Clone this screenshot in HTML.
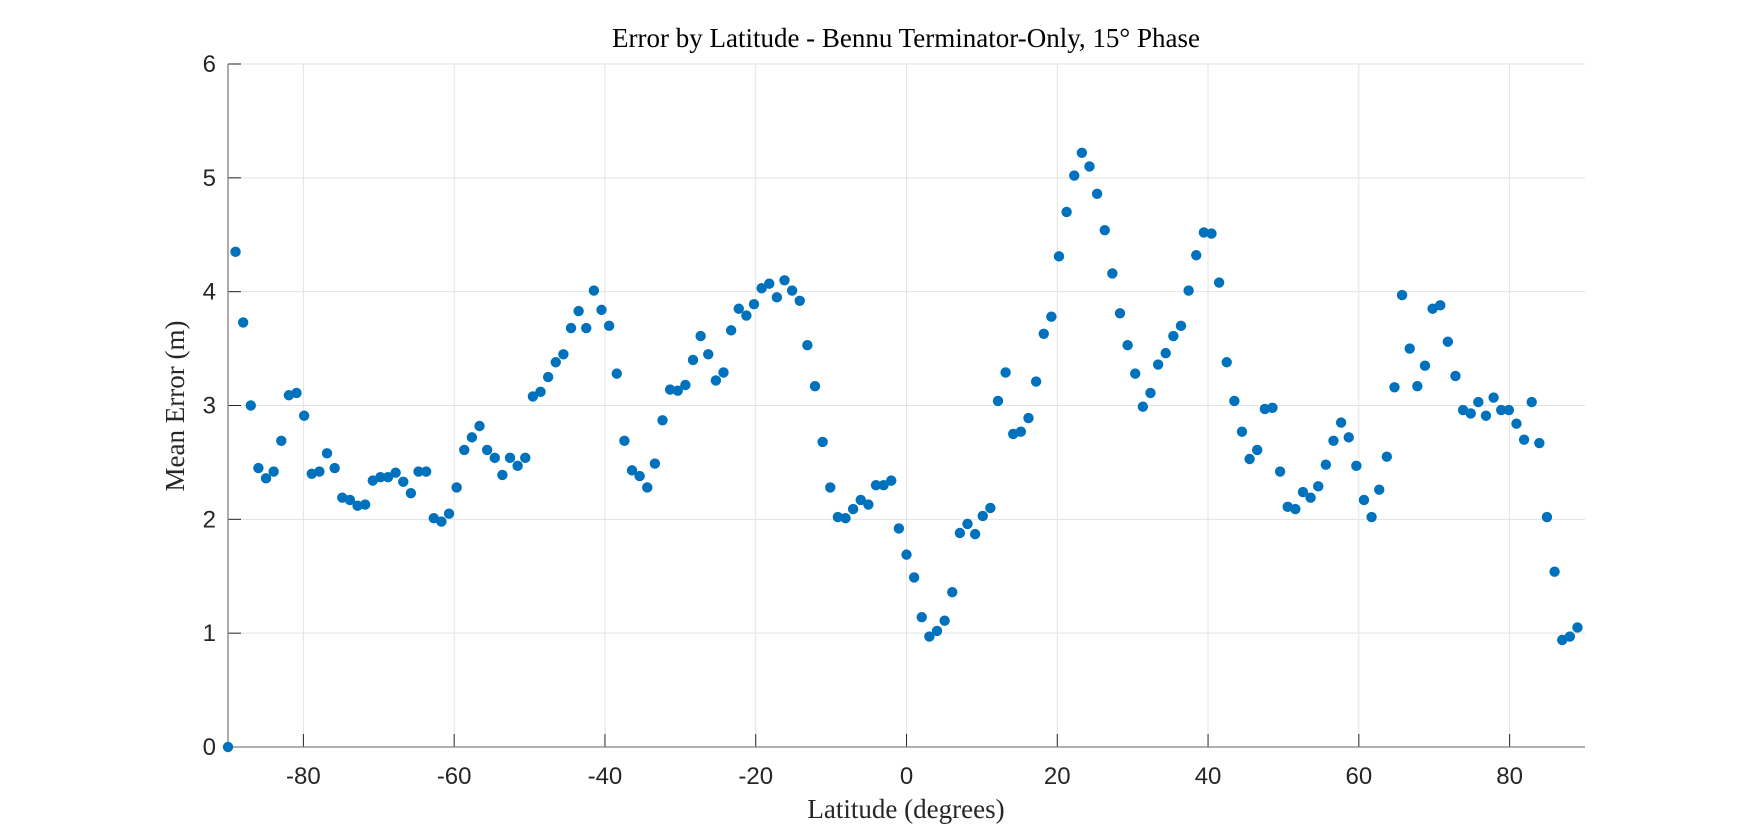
<!DOCTYPE html>
<html><head><meta charset="utf-8"><style>
html,body{margin:0;padding:0;background:#fff;}
svg{display:block;}
</style></head><body>
<svg id="chart" width="1754" height="840" xmlns="http://www.w3.org/2000/svg">
<rect width="1754" height="840" fill="#fff"/>
<g id="grid"></g>
<g id="axes"></g>
<g id="points"></g>
<text x="906" y="47" text-anchor="middle" font-family="Liberation Serif, serif" font-size="27" fill="#000">Error by Latitude - Bennu Terminator-Only, 15° Phase</text>
<text x="906" y="818" text-anchor="middle" font-family="Liberation Serif, serif" font-size="27" fill="#262626">Latitude (degrees)</text>
<text transform="translate(184,406) rotate(-90)" text-anchor="middle" font-family="Liberation Serif, serif" font-size="27" fill="#262626">Mean Error (m)</text>
</svg>
<script>
const xTicks = [-80, -60, -40, -20, 0, 20, 40, 60, 80];
const yTicks = [0, 1, 2, 3, 4, 5, 6];
const firstLat = -90;
const firstVal = 0;
const latStart = -89;
const latEnd = 89;
const errors = [
4.35,3.73,3.00,2.45,2.36,2.42,2.69,3.09,3.11,2.91,2.40,2.42,2.58,2.45,2.19,2.17,2.12,2.13,2.34,2.37,2.37,2.41,2.33,2.23,2.42,2.42,2.01,1.98,2.05,2.28,
2.61,2.72,2.82,2.61,2.54,2.39,2.54,2.47,2.54,3.08,3.12,3.25,3.38,3.45,3.68,3.83,3.68,4.01,3.84,3.70,3.28,2.69,2.43,2.38,2.28,2.49,2.87,3.14,3.13,
3.18,3.40,3.61,3.45,3.22,3.29,3.66,3.85,3.79,3.89,4.03,4.07,3.95,4.10,4.01,3.92,3.53,3.17,2.68,2.28,2.02,2.01,2.09,2.17,2.13,2.30,2.30,2.34,1.92,1.69,1.49,
1.14,0.97,1.02,1.11,1.36,1.88,1.96,1.87,2.03,2.10,3.04,3.29,2.75,2.77,2.89,3.21,3.63,3.78,4.31,4.70,5.02,5.22,5.10,4.86,4.54,4.16,3.81,3.53,3.28,2.99,
3.11,3.36,3.46,3.61,3.70,4.01,4.32,4.52,4.51,4.08,3.38,3.04,2.77,2.53,2.61,2.97,2.98,2.42,2.11,2.09,2.24,2.19,2.29,2.48,2.69,2.85,2.72,2.47,2.17,2.02,
2.26,2.55,3.16,3.97,3.50,3.17,3.35,3.85,3.88,3.56,3.26,2.96,2.93,3.03,2.91,3.07,2.96,2.96,2.84,2.70,3.03,2.67,2.02,1.54,0.94,0.97,1.05
];
const L=228, R=1585, T=64, B=747;
const xMin=-90, xMax=90, yMin=0, yMax=6;
function sx(v){return L+(v-xMin)/(xMax-xMin)*(R-L);}
function sy(v){return B-(v-yMin)/(yMax-yMin)*(B-T);}
const NS="http://www.w3.org/2000/svg";
function mk(tag,attrs,parent){const e=document.createElementNS(NS,tag);for(const k in attrs)e.setAttribute(k,attrs[k]);parent.appendChild(e);return e;}
const grid=document.getElementById('grid'), axes=document.getElementById('axes'), pts=document.getElementById('points');
xTicks.forEach(t=>{
  const g=mk('line',{x1:sx(t),x2:sx(t),y1:T,y2:B,stroke:'#e3e3e3','stroke-width':1},grid);
  
  
  const tk=mk('line',{x1:sx(t),x2:sx(t),y1:B,y2:B-13,stroke:'#262626','stroke-width':1},axes);
  
  
  const lb=mk('text',{x:sx(t),y:B+37,'text-anchor':'middle','font-family':'Liberation Sans, sans-serif','font-size':24,fill:'#262626'},axes);
  lb.textContent=String(t);
  
  
});
yTicks.forEach(t=>{
  const g=mk('line',{x1:L,x2:R,y1:sy(t),y2:sy(t),stroke:'#e3e3e3','stroke-width':1},grid);
  
  
  const tk=mk('line',{x1:L,x2:L+13,y1:sy(t),y2:sy(t),stroke:'#262626','stroke-width':1},axes);
  
  
  const lb=mk('text',{x:L-12,y:sy(t)+8,'text-anchor':'end','font-family':'Liberation Sans, sans-serif','font-size':24,fill:'#262626'},axes);
  lb.textContent=String(t);
  
  
});
const ya=mk('line',{x1:L,x2:L,y1:T,y2:B,stroke:'#808080','stroke-width':1.3},axes);


const xa=mk('line',{x1:L,x2:R,y1:B,y2:B,stroke:'#808080','stroke-width':1.3},axes);


function dot(lat,v){
  const c=mk('circle',{cx:sx(lat),cy:sy(v),r:5.2,fill:'#0072BD'},pts);
  
  
}
dot(firstLat, firstVal);
const n=errors.length;
errors.forEach((v,i)=>{
  const lat = latStart + i*(latEnd-latStart)/(n-1);
  dot(lat, v);
});
</script>
</body></html>
